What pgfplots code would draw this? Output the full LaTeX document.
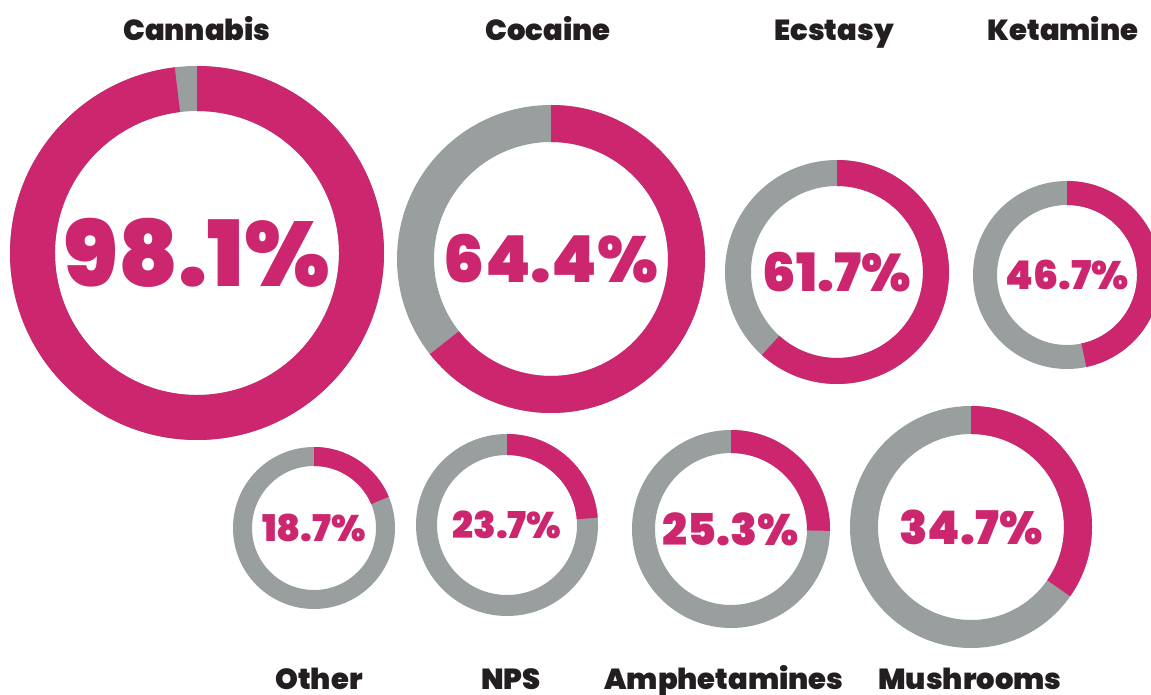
\documentclass[border=0pt]{standalone}
\usepackage{pgfplots}
\pgfplotsset{compat=1.18}
\usetikzlibrary{calc}
\usepackage{fontspec}
\setmainfont{Poppins}[BoldFont={Poppins Black}]
\definecolor{pinkc}{HTML}{CC266E}
\definecolor{grayc}{HTML}{999F9E}
\definecolor{darkc}{HTML}{231F20}
% #1 cx, #2 cy, #3 outer r, #4 inner r, #5 share in %, #6 width of the label
\newcommand{\donut}[6]{%
  \fill[grayc,even odd rule] (axis cs:#1,#2) circle[radius=#3pt] (axis cs:#1,#2) circle[radius=#4pt];
  \fill[pinkc] ($(axis cs:#1,#2)+(90:#3pt)$) arc[start angle=90,delta angle=-3.6*#5,radius=#3pt]
    -- ($(axis cs:#1,#2)+(90-3.6*#5:#4pt)$) arc[start angle=90-3.6*#5,delta angle=3.6*#5,radius=#4pt] -- cycle;
  \node[pinkc] at (axis cs:#1,#2) {\resizebox{#6pt}{!}{\bfseries #5\%}};
}
\newcommand{\ttl}[3]{\node[darkc,anchor=base,font=\fontsize{29}{30}\selectfont\bfseries] at (axis cs:#1,#2) {#3};}
\begin{document}
\begin{tikzpicture}
\begin{axis}[
    name=ax,
    x=1pt, y=1pt, y dir=reverse,
    xmin=0, xmax=1151, ymin=0, ymax=695,
    scale only axis,
    hide axis,
    ]
\donut{197}{253}{187}{142}{98.1}{266}
\donut{551}{259}{154}{117}{64.4}{214}
\donut{837}{272}{112}{86}{61.7}{148}
\donut{1067}{275}{94}{70}{46.7}{123}
\donut{314}{528}{81}{62}{18.7}{104}
\donut{507}{525}{91}{70}{23.7}{109}
\donut{731}{529}{99}{76}{25.3}{136}
\donut{971}{527}{121}{93}{34.7}{143}
\ttl{197}{41}{Cannabis}
\ttl{548}{41}{Cocaine}
\ttl{834}{41}{Ecstasy}
\ttl{1063}{41}{Ketamine}
\ttl{319}{689}{Other}
\ttl{511}{689}{NPS}
\ttl{724}{689}{Amphetamines}
\ttl{970}{689}{Mushrooms}
\end{axis}
\pgfresetboundingbox
\path (ax.south west) rectangle (ax.north east);
\end{tikzpicture}
\end{document}
